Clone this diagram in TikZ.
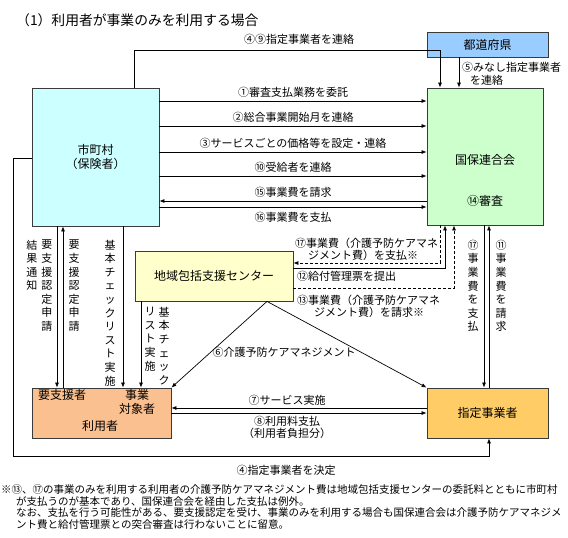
\documentclass[tikz,border=0pt]{standalone}
\usepackage{fontspec}
\setmainfont{Noto Sans CJK JP}
\usepackage{tikz}
\usetikzlibrary{positioning,calc,arrows.meta}
\definecolor{boxline}{HTML}{3A3A3A}
\definecolor{prefblue}{HTML}{99CCFF}
\definecolor{cityblue}{HTML}{CCFFFF}
\definecolor{rengogreen}{HTML}{CCFFCC}
\definecolor{centeryellow}{HTML}{FFFFCC}
\definecolor{userorange}{HTML}{FAC090}
\definecolor{providergold}{HTML}{FFCC66}
\tikzset{
  box/.style={draw=boxline, line width=0.8pt, inner sep=0pt, font=\fontsize{12}{14}\selectfont},
  boxtext/.style={inner sep=0pt, font=\fontsize{12}{14}\selectfont},
  lbl/.style={inner sep=0pt, font=\fontsize{11}{12}\selectfont},
  tate/.style={inner sep=0pt, align=center, font=\fontsize{11}{13.6}\selectfont},
  arr/.style={-{Latex[length=5pt,width=4pt]}, line width=0.7pt},
  dash17/.style={dash pattern=on 3pt off 2pt}
}

\begin{document}
\begin{tikzpicture}[x=1pt, y=-1pt]
  \useasboundingbox (0,0) rectangle (568,538);
  \node[anchor=west, inner sep=0pt, font=\fontsize{13.8}{16}\selectfont] (title) at (16,20) {（1）利用者が事業のみを利用する場合};

  % boxes
  \node[box, fill=prefblue, minimum width=121pt, minimum height=25pt] (todofuken) at (487.5,44.5) {都道府県};
  \node[box, fill=cityblue, minimum width=127pt, minimum height=138pt, align=center] (shichoson) at (95.5,157) {市町村\\（保険者）};
  \node[box, fill=rengogreen, minimum width=116pt, minimum height=137pt] (kokuho) at (485,156.5) {};
  \node[boxtext] (kokuhoname) at (485,160) {国保連合会};
  \node[boxtext] (shinsa) at (485,201) {⑭審査};
  \node[box, fill=centeryellow, minimum width=158pt, minimum height=50pt] (hokatsu) at (214,276) {地域包括支援センター};
  \node[box, fill=userorange, minimum width=139pt, minimum height=50pt] (riyosha) at (101.5,413) {};
  \node[boxtext] (yoshiensha) at (62,395) {要支援者};
  \node[boxtext, align=center] (taishosha) at (137,402) {事業\\対象者};
  \node[boxtext] (riyoshaname) at (100,426) {利用者};
  \node[box, fill=providergold, minimum width=121pt, minimum height=50pt] (jigyosha) at (487.5,413) {指定事業者};

  % prefecture links
  \coordinate (link49) at (134,50);
  \coordinate (turn49) at (440,50);
  \draw[arr] (shichoson.north -| link49) -- (link49) -- (turn49) -- (turn49 |- kokuho.north);
  \node[lbl] (lbl49) at (299,39) {④⑨指定事業者を連絡};
  \coordinate (drop5) at (459,60);
  \draw[arr] (todofuken.south -| drop5) -- (kokuho.north -| drop5);
  \node[lbl, anchor=west, align=left, font=\fontsize{11}{13}\selectfont] (lbl5) at (462,73.5) {⑤みなし指定事業者\\\hspace*{8pt}を連絡};

  % city <-> federation
  \foreach \yy/\txt in {101/①審査支払業務を委託, 126/②総合事業開始月を連絡, 152/③サービスごとの価格等を設定・連絡, 176/⑩受給者を連絡}
  {
    \draw[arr] (shichoson.east |- 0,\yy) -- (kokuho.west |- 0,\yy);
    \node[lbl] (msg\yy) at (293,\yy-9) {\txt};
  }
  \draw[arr] (kokuho.west |- 0,201) -- (shichoson.east |- 0,201);
  \node[lbl] (lbl15) at (293,192) {⑮事業費を請求};
  \draw[arr] (shichoson.east |- 0,207) -- (kokuho.west |- 0,207);
  \node[lbl] (lbl16) at (293,217) {⑯事業費を支払};

  % city <-> user
  \draw[arr] (shichoson.south -| 57,0) -- (riyosha.north -| 57,0);
  \draw[arr] (riyosha.north -| 63,0) -- (shichoson.south -| 63,0);
  \draw[arr] (shichoson.south -| 123,0) -- (riyosha.north -| 123,0);
  \draw[arr] (hokatsu.south -| 141,0) -- (riyosha.north -| 141,0);
  \node[tate] (kekka) at (32,265.4) {結\\果\\通\\知};
  \node[tate] (shinsei1) at (47,285.8) {要\\支\\援\\認\\定\\申\\請};
  \node[tate] (shinsei2) at (74,285.8) {要\\支\\援\\認\\定\\申\\請};
  \node[tate] (check1) at (110,313) {基\\本\\チ\\ェ\\ッ\\ク\\リ\\ス\\ト\\実\\施};
  \node[tate] (check2a) at (164,346) {基\\本\\チ\\ェ\\ッ\\ク};
  \node[tate] (check2b) at (150,339.2) {リ\\ス\\ト\\実\\施};

  % federation <-> provider
  \draw[arr] (kokuho.south -| 484,0) -- (jigyosha.north -| 484,0);
  \draw[arr] (jigyosha.north -| 489,0) -- (kokuho.south -| 489,0);
  \node[tate] (pay17v) at (473,285.8) {⑰\\事\\業\\費\\を\\支\\払};
  \node[tate] (req11v) at (501,285.8) {⑪\\事\\業\\費\\を\\請\\求};

  % centre <-> federation
  \coordinate (pay17) at (440,263);
  \draw[arr, dash17] (kokuho.south -| pay17) -- (pay17) -- (pay17 -| hokatsu.east);
  \coordinate (sub12) at (445,268);
  \draw[arr] (sub12 -| hokatsu.east) -- (sub12) -- (sub12 |- kokuho.south);
  \coordinate (req13) at (454,288);
  \draw[arr, dash17] (req13 -| hokatsu.east) -- (req13) -- (req13 |- kokuho.south);
  \node[lbl, anchor=west, align=left] (lbl17) at (295,249) {⑰事業費（介護予防ケアマネ\\\hspace*{13pt}ジメント費）を支払※};
  \node[lbl, anchor=west] (lbl12) at (297,276) {⑫給付管理票を提出};
  \node[lbl, anchor=west, align=left] (lbl13) at (297,306.5) {⑬事業費（介護予防ケアマネ\\\hspace*{17pt}ジメント費）を請求※};

  % care management
  \coordinate (care6) at ($(hokatsu.south)+(53,0)$);
  \draw[arr] (care6) -- (riyosha.north east);
  \draw[arr] (care6) -- (jigyosha.north west);
  \node[lbl] (lbl6) at (284,352) {⑥介護予防ケアマネジメント};

  % user <-> provider
  \draw[arr] (jigyosha.west |- 0,408) -- (riyosha.east |- 0,408);
  \draw[arr] (riyosha.east |- 0,413) -- (jigyosha.west |- 0,413);
  \node[lbl] (lbl7) at (287,400) {⑦サービス実施};
  \node[lbl, align=center] (lbl8) at (287,427) {⑧利用料支払\\（利用者負担分）};

  % outer loop
  \coordinate (loopA) at (13,158);
  \coordinate (loopB) at (13,456);
  \coordinate (loopC) at (489,456);
  \draw[arr] (shichoson.west |- loopA) -- (loopA) -- (loopB) -- (loopC) -- (loopC |- jigyosha.south);
  \node[lbl] (lbl4) at (286,470) {④指定事業者を決定};

  % note
  \node[anchor=north west, inner sep=0pt, align=left, font=\fontsize{10.5}{11.6}\selectfont] (note) at (1,484.5) {※⑬、⑰の事業のみを利用する利用者の介護予防ケアマネジメント費は地域包括支援センターの委託料とともに市町村\\
  \hspace*{15pt}が支払うのが基本であり、国保連合会を経由した支払は例外。\\
  \hspace*{15pt}なお、支払を行う可能性がある、要支援認定を受け、事業のみを利用する場合も国保連合会は介護予防ケアマネジメ\\
  \hspace*{15pt}ント費と給付管理票との突合審査は行わないことに留意。};
\end{tikzpicture}
\end{document}
